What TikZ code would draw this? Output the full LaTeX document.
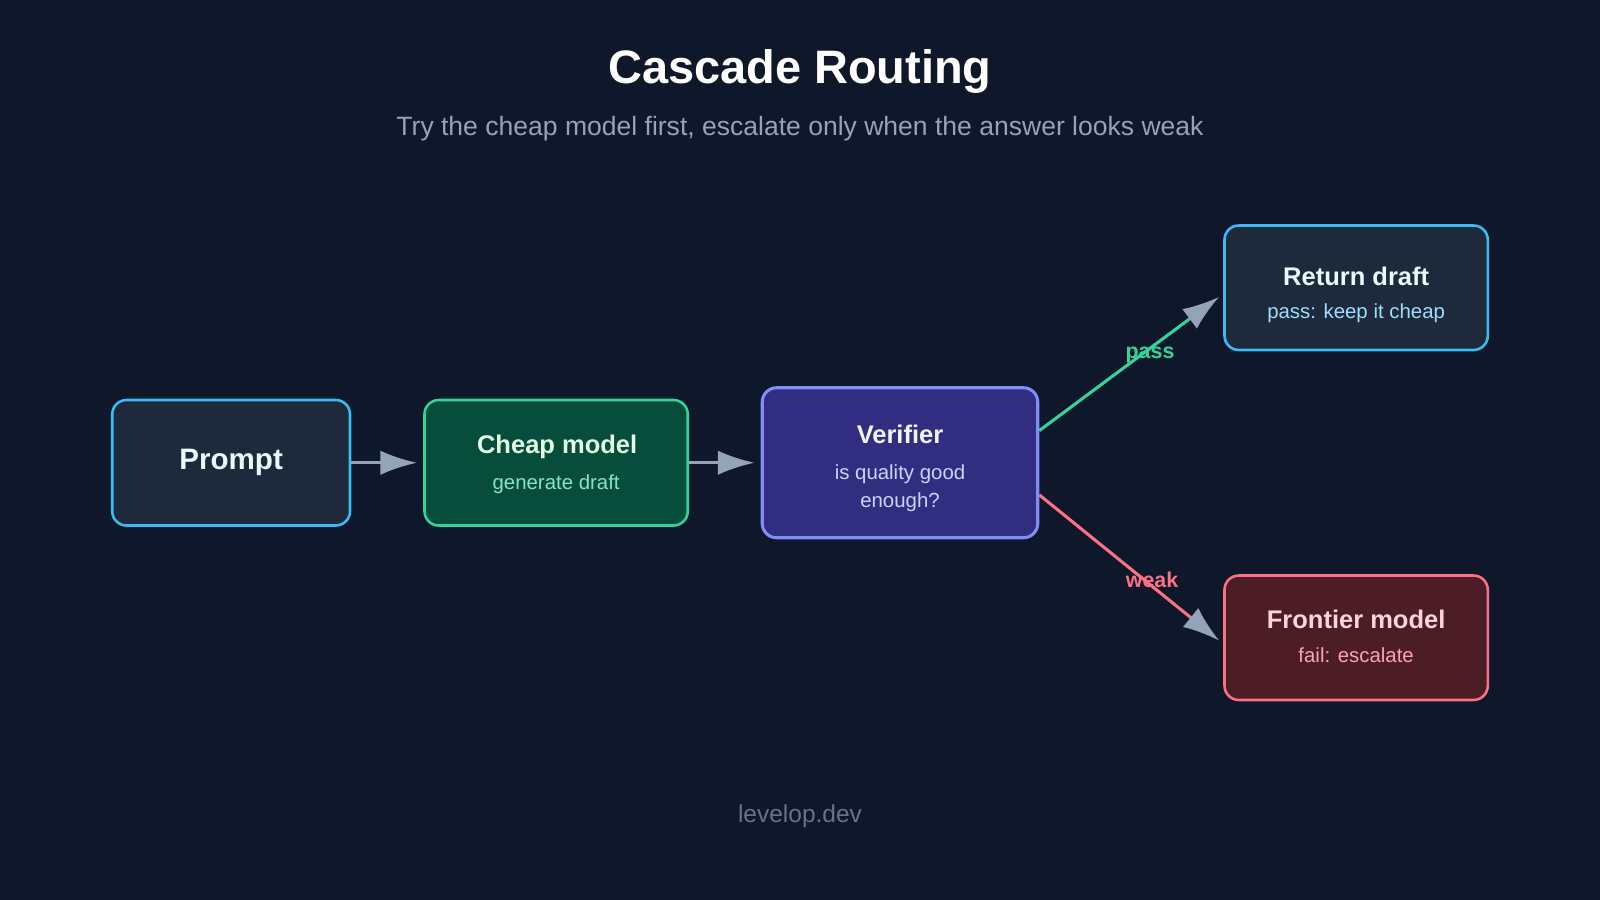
\documentclass[tikz,border=0pt]{standalone}
\usepackage{fontspec}
\setmainfont{Liberation Sans}
\usetikzlibrary{arrows.meta}
\definecolor{bg}{HTML}{0F172A}
\definecolor{slate}{HTML}{1E293B}
\definecolor{sky}{HTML}{38BDF8}
\definecolor{agray}{HTML}{94A3B8}
\definecolor{foot}{HTML}{64748B}
\definecolor{grn}{HTML}{34D399}
\definecolor{grnfill}{HTML}{064E3B}
\definecolor{ind}{HTML}{312E81}
\definecolor{indb}{HTML}{818CF8}
\definecolor{rose}{HTML}{FB7185}
\definecolor{rosefill}{HTML}{4C1D24}
\tikzset{
  box/.style={rounded corners=14pt,line width=2.5pt,inner sep=0pt,align=center},
  ttl/.style={font=\fontsize{25}{30}\selectfont\bfseries},
  arr/.style={line width=3pt,agray,-{Latex[length=36pt,width=24pt,color=agray,fill=agray]}},
}
\begin{document}
\begin{tikzpicture}[x=1pt,y=-1pt]
\fill[bg] (0,0) rectangle (1568,882);
\useasboundingbox (0,0) rectangle (1568,882);
\node[text=white,font=\fontsize{46}{52}\selectfont\bfseries] (title) at (784,70) {Cascade Routing};
\node[text=agray,font=\fontsize{26}{30}\selectfont] (sub) at (784,126) {Try the cheap model first, escalate only when the answer looks weak};
\node[text=foot,font=\fontsize{24}{28}\selectfont] (foot) at (784,800) {levelop.dev};

\node[box,draw=sky,fill=slate,minimum width=233pt,minimum height=123pt,text=white!90!sky,font=\fontsize{29}{34}\selectfont\bfseries] (p) at (226.5,453.5) {Prompt};
\node[box,draw=grn,fill=grnfill,minimum width=258pt,minimum height=123pt] (c) at (545,453.5) {};
\node[ttl,text=green!10!white] at (546,438) {Cheap model};
\node[text=grn!60!white,font=\fontsize{20}{24}\selectfont] at (545,475) {generate draft};

\node[box,line width=3pt,draw=indb,fill=ind,minimum width=270pt,minimum height=147pt] (v) at (882,453.5) {};
\node[ttl,text=indb!10!white] at (882,426) {Verifier};
\node[text=indb!40!white,font=\fontsize{20}{27}\selectfont,align=center] at (882,478.5) {is quality good\\enough?};

\node[box,draw=sky,fill=slate,minimum width=258pt,minimum height=122pt] (r) at (1329,282) {};
\node[ttl,text=white!90!sky] at (1329,271) {Return draft};
\node[text=sky!50!white,font=\fontsize{20}{24}\selectfont] at (1329,307) {pass: keep it cheap};

\node[box,draw=rose,fill=rosefill,minimum width=258pt,minimum height=122pt] (f) at (1329,625) {};
\node[ttl,text=rose!30!white] at (1329,607) {Frontier model};
\node[text=rose!65!white,font=\fontsize{20}{24}\selectfont] at (1329,642) {fail: escalate};

\draw[arr,shorten >=6pt] (p.east) -- (c.west);
\draw[arr,shorten >=6pt] (c.east) -- (v.west);
\draw[arr,grn,shorten >=5pt] ([yshift=31.5pt]v.east) -- ([yshift=-6pt]r.west);
\draw[arr,rose,shorten >=5pt] ([yshift=-31.5pt]v.east) -- ([yshift=-6pt]f.west);
\node[text=grn,font=\fontsize{21}{24}\selectfont\bfseries] at (1127,348) {pass};
\node[text=rose,font=\fontsize{21}{24}\selectfont\bfseries] at (1129,568) {weak};
\end{tikzpicture}
\end{document}
